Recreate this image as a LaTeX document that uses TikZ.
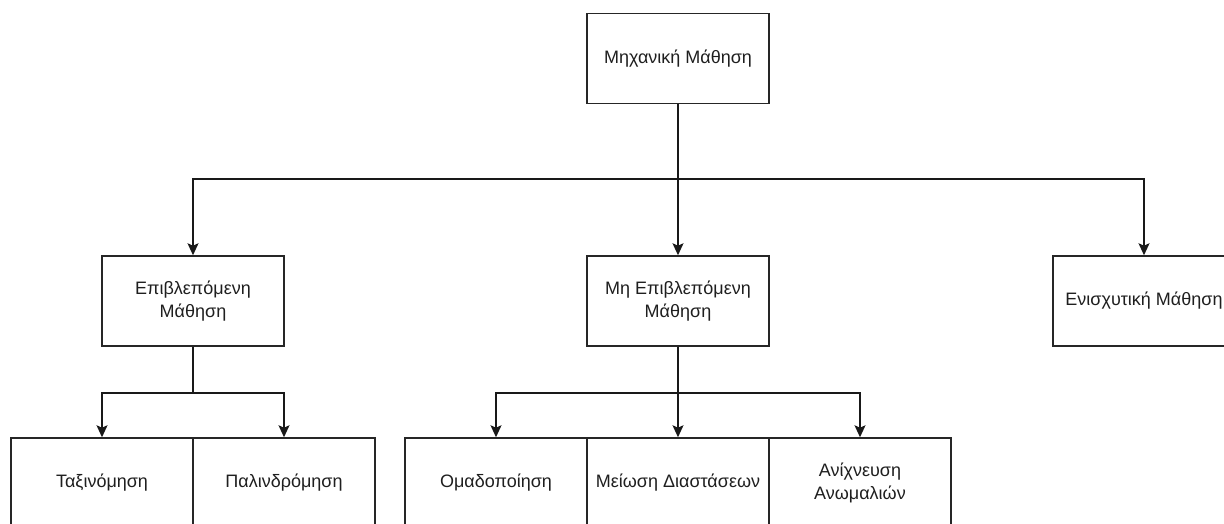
\documentclass[tikz,border=0pt]{standalone}
\usepackage{fontspec}
\setmainfont{Liberation Sans}
\usetikzlibrary{arrows.meta}
\begin{document}
\begin{tikzpicture}[x=1pt,y=-1pt,
  box/.style={draw=black!85, line width=1.5pt, fill=white, inner sep=2pt,
    minimum width=182pt, minimum height=90pt, align=center,
    font=\fontsize{18}{22.5}\selectfont, text=black!88},
  link/.style={draw=black!90, line width=1.5pt,
    -{Stealth[length=12pt,width=11pt,inset=2.5pt]}}]
  \useasboundingbox (0,0) rectangle (1224,524);
  \clip (0,0) rectangle (1224,524);
  \fill[white] (0,0) rectangle (1224,524);

  % root
  \node[box] (ml) at (678,58.5) {Μηχανική Μάθηση};

  % learning paradigms
  \node[box] (sup) at (193,301) {Επιβλεπόμενη\\Μάθηση};
  \node[box] (uns) at (678,301) {Μη Επιβλεπόμενη\\Μάθηση};
  \node[box] (rl)  at (1144,301) {Ενισχυτική Μάθηση};

  % supervised tasks
  \node[box] (cls) at (102,483) {Ταξινόμηση};
  \node[box] (reg) at (284,483) {Παλινδρόμηση};

  % unsupervised tasks
  \node[box] (clu) at (496,483) {Ομαδοποίηση};
  \node[box] (dim) at (678,483) {Μείωση Διαστάσεων};
  \node[box] (ano) at (860,483) {Ανίχνευση\\Ανωμαλιών};

  % connectors
  \draw[link] (ml.south) -- ++(0,75) -| (sup.north);
  \draw[link] (ml.south) -- (uns.north);
  \draw[link] (ml.south) -- ++(0,75) -| (rl.north);

  \draw[link] (sup.south) -- ++(0,46) -| (cls.north);
  \draw[link] (sup.south) -- ++(0,46) -| (reg.north);

  \draw[link] (uns.south) -- ++(0,46) -| (clu.north);
  \draw[link] (uns.south) -- (dim.north);
  \draw[link] (uns.south) -- ++(0,46) -| (ano.north);
\end{tikzpicture}
\end{document}
